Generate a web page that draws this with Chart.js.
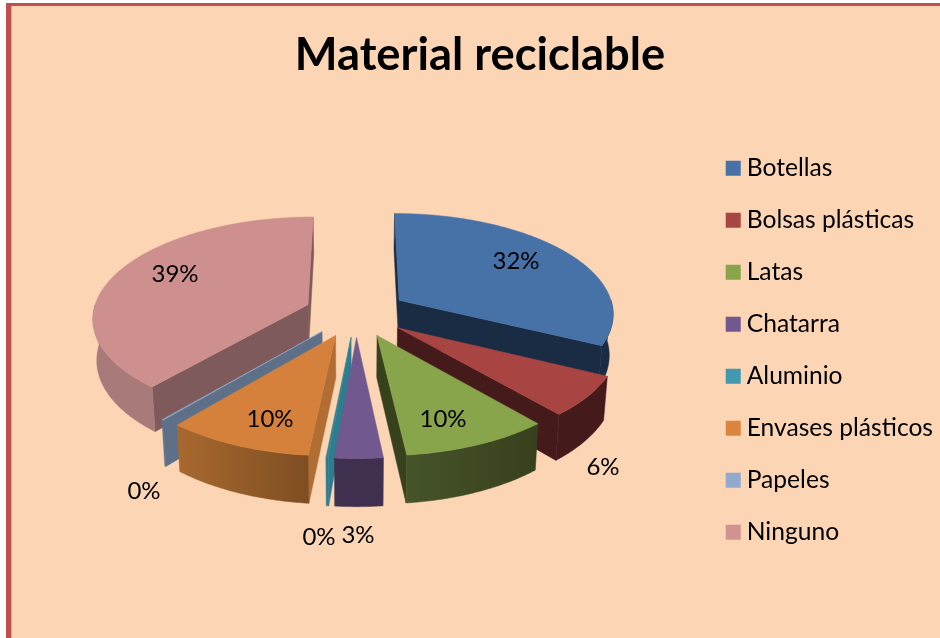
<!DOCTYPE html>
<html lang="es">
<head>
<meta charset="utf-8">
<title>Material reciclable</title>
<script src="https://cdn.jsdelivr.net/npm/chart.js@4"></script>
<style>
    html, body { margin: 0; padding: 0; background: #fff; width: 940px; height: 638px; overflow: hidden; }
    #fondo {
        position: absolute; left: 6px; top: 3px; right: 0; bottom: 0;
        background: #FCD5B5;
        border-left: 5px solid #C0504D; border-top: 3px solid #C0504D;
        box-shadow: inset 1px 0 0 #EE9F94;
    }
    #grafico { position: absolute; left: 0; top: 0; }
</style>
</head>
<body>
<div id="fondo"></div>
<canvas id="grafico" width="940" height="638"></canvas>
<script>
const categorias = ['Botellas', 'Bolsas plásticas', 'Latas', 'Chatarra', 'Aluminio', 'Envases plásticos', 'Papeles', 'Ninguno'];
const valores = [32.3, 6.4, 9.6, 3.1, 0.15, 9.52, 0.1, 38.83];

const colores = ['#4672A8', '#A84442', '#88A54C', '#71588F', '#4198AF', '#DB843D', '#93A9CF', '#D19392'];
const coloresCara = ['#4672A8', '#A84442', '#88A54C', '#71588F', '#338294', '#D6813B', '#93A9CF', '#CE8F8F'];
const coloresPared = ['#1A2C44', '#451A1A', '#37421C', '#402F52', '#2D7C8F', '#B26E32', '#5E7088', '#7F5A5A'];
const paredCurvaIni = ['#1A2C44', '#451A1A', '#46542A', '#40304F', '#2D7C8F', '#A8692F', '#5E7088', '#A87A7A'];
const paredCurvaFin = ['#1A2C44', '#451A1A', '#37401C', '#40304F', '#2D7C8F', '#7E4E22', '#5E7088', '#A87A7A'];

// posicion de cada etiqueta de porcentaje
const posEtiquetas = [[516, 261], [603, 467], [443, 419], [358, 535], [319, 537], [270, 419], [144, 491], [175, 274]];

// vista 3D del pastel
const vista = { cx: 356, cy: 312.8, a: 215, b: 100, k: 0.12, alto: 41, separa: 0.24 };

function proyectar(u, v, abajo) {
    const w = 1 - vista.k * v;
    let x = vista.a * u / w;
    let y = vista.cy + vista.b * v / w;
    if (abajo) {
        x *= 0.985;
        y += vista.alto / w;
    }
    return [vista.cx + x, y];
}

const pastel3d = {
    id: 'pastel3d',
    beforeDatasetsDraw(chart) {
        const ctx = chart.ctx;
        const arcos = chart.getDatasetMeta(0).data.map((el, i) => {
            const medio = (el.startAngle + el.endAngle) / 2;
            return {
                i, ini: el.startAngle, fin: el.endAngle,
                ou: Math.cos(medio) * vista.separa,
                ov: Math.sin(medio) * vista.separa,
                orden: Math.sin(medio)
            };
        });
        // de atras hacia adelante
        arcos.sort((p, q) => p.orden - q.orden);

        const poligono = (puntos, relleno) => {
            ctx.beginPath();
            puntos.forEach((p, n) => n ? ctx.lineTo(p[0], p[1]) : ctx.moveTo(p[0], p[1]));
            ctx.closePath();
            ctx.fillStyle = relleno;
            ctx.strokeStyle = relleno;
            ctx.lineWidth = 0.5;
            ctx.fill();
            ctx.stroke();
        };
        const borde = (s, ang1, ang2, abajo) => {
            const pts = [];
            const pasos = Math.max(2, Math.ceil(Math.abs(ang2 - ang1) / 0.01));
            for (let n = 0; n <= pasos; n++) {
                const t = ang1 + (ang2 - ang1) * n / pasos;
                pts.push(proyectar(s.ou + Math.cos(t), s.ov + Math.sin(t), abajo));
            }
            return pts;
        };

        arcos.forEach(s => {
            const ap = proyectar(s.ou, s.ov, false);
            const apB = proyectar(s.ou, s.ov, true);
            const r1 = proyectar(s.ou + Math.cos(s.ini), s.ov + Math.sin(s.ini), false);
            const r1B = proyectar(s.ou + Math.cos(s.ini), s.ov + Math.sin(s.ini), true);
            const r2 = proyectar(s.ou + Math.cos(s.fin), s.ov + Math.sin(s.fin), false);
            const r2B = proyectar(s.ou + Math.cos(s.fin), s.ov + Math.sin(s.fin), true);

            // paredes planas que se ven desde arriba
            if (r1[0] < ap[0]) poligono([ap, r1, r1B, apB], coloresPared[s.i]);
            if (r2[0] > ap[0]) poligono([ap, r2, r2B, apB], coloresPared[s.i]);

            // pared curva, solo la parte delantera
            const lo = Math.max(s.ini, 0);
            const hi = Math.min(s.fin, Math.PI);
            if (hi > lo) {
                const arriba = borde(s, lo, hi, false);
                const bajo = borde(s, lo, hi, true).reverse();
                const xs = arriba.map(p => p[0]);
                const grad = ctx.createLinearGradient(Math.min(...xs), 0, Math.max(...xs), 0);
                grad.addColorStop(0, paredCurvaIni[s.i]);
                grad.addColorStop(1, paredCurvaFin[s.i]);
                poligono(arriba.concat(bajo), grad);
            }

            // cara superior
            poligono([ap].concat(borde(s, s.ini, s.fin, false)), coloresCara[s.i]);
        });
        return false;
    },
    afterDraw(chart) {
        const ctx = chart.ctx;
        const total = valores.reduce((a, b) => a + b, 0);
        ctx.save();
        ctx.font = '24px Lato';
        ctx.fillStyle = '#000';
        ctx.textAlign = 'center';
        ctx.textBaseline = 'middle';
        valores.forEach((val, i) => {
            ctx.fillText(Math.round(val / total * 100) + '%', posEtiquetas[i][0], posEtiquetas[i][1]);
        });
        ctx.restore();
    }
};

new Chart(document.getElementById('grafico').getContext('2d'), {
    type: 'pie',
    data: {
        labels: categorias,
        datasets: [{ data: valores, backgroundColor: colores, borderWidth: 0 }]
    },
    options: {
        responsive: false,
        animation: false,
        layout: { padding: { left: 17, right: -3, top: 0, bottom: 20 } },
        plugins: {
            tooltip: { enabled: false },
            title: {
                display: true,
                text: 'Material reciclable',
                color: '#000',
                font: { family: 'Lato', size: 45.3, weight: 'bold' },
                padding: { top: 28, bottom: 0 }
            },
            legend: {
                position: 'right',
                fullSize: false,
                labels: {
                    color: '#000',
                    font: { family: 'Lato', size: 24.6 },
                    usePointStyle: true,
                    pointStyle: 'rect',
                    boxWidth: 2.4,
                    boxHeight: 15,
                    padding: 27.4
                }
            }
        }
    },
    plugins: [pastel3d]
});
</script>
</body>
</html>
